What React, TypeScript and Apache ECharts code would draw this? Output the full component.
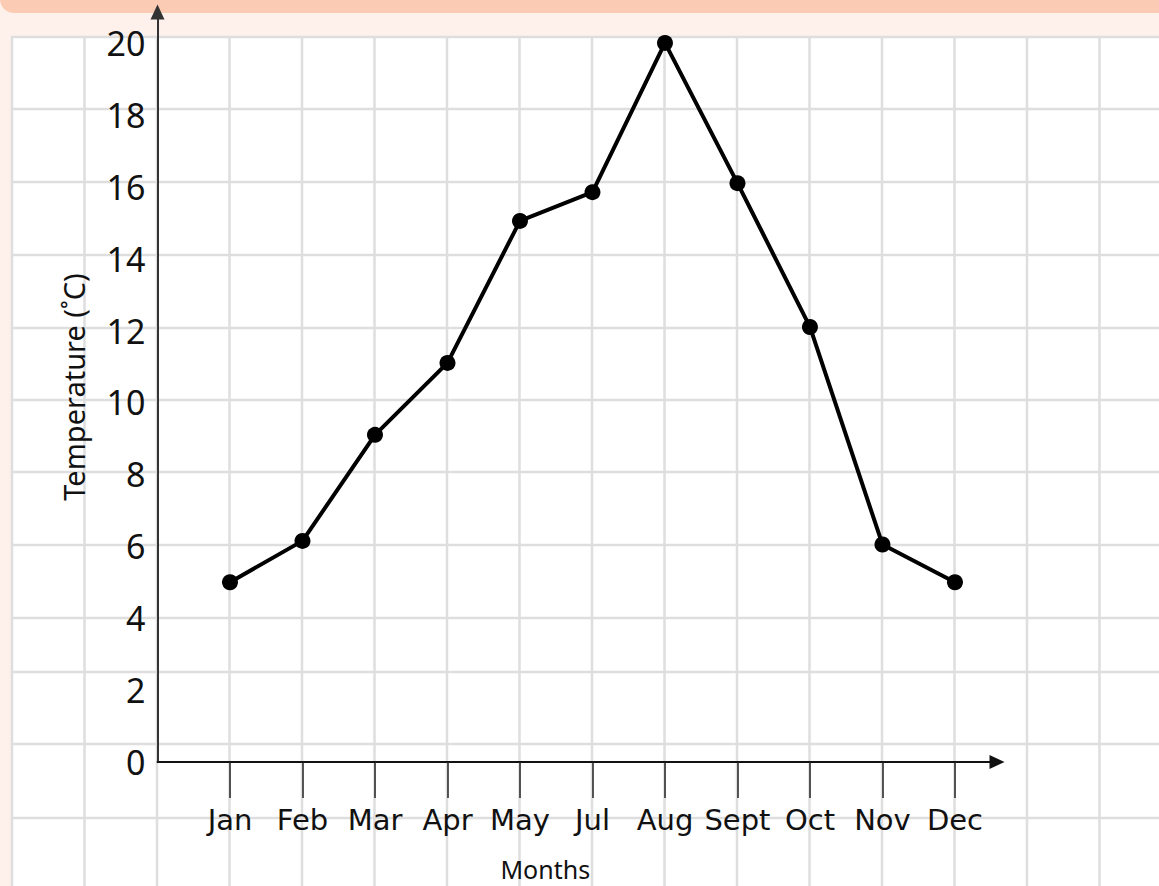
import React, { useEffect, useRef } from "react";
import * as echarts from "echarts";

const months = ["Jan", "Feb", "Mar", "Apr", "May", "Jul", "Aug", "Sept", "Oct", "Nov", "Dec"];
const monthPos = [1, 2, 3, 4, 5, 6, 7, 8, 9, 10, 11];
const temps = [5, 6.15, 9.1, 11.1, 15.05, 15.85, 20, 16.1, 12.1, 6.05, 5];
const yTicks = [0, 2, 4, 6, 8, 10, 12, 14, 16, 18, 20];

const W = 1159;
const H = 886;
const paperLeft = 12;
const paperTop = 36;
const vLines = Array.from({ length: 16 }, (_, k) => paperLeft + 72.5 * k);
const hLines = [37, 109, 182, 255, 328, 400, 472, 545, 618, 672, 744, 818];

export default function App() {
  const ref = useRef<HTMLDivElement>(null);
  useEffect(() => {
    document.body.style.margin = "0";
    const chart = echarts.init(ref.current!, null, { renderer: "svg" });
    const gridEls: any[] = [];
    gridEls.push({
      type: "rect",
      z: -20,
      shape: { x: paperLeft, y: paperTop, width: W - paperLeft, height: H - paperTop },
      style: { fill: "#ffffff" },
    });
    vLines.forEach((x) =>
      gridEls.push({
        type: "line",
        z: -10,
        shape: { x1: x, y1: paperTop, x2: x, y2: H },
        style: { stroke: "#dedede", lineWidth: 2.5 },
      })
    );
    hLines.forEach((y) =>
      gridEls.push({
        type: "line",
        z: -10,
        shape: { x1: paperLeft, y1: y, x2: W, y2: y },
        style: { stroke: "#dedede", lineWidth: 2.5 },
      })
    );
    gridEls.push({
      type: "rect",
      z: -5,
      shape: { x: 0, y: -20, width: W, height: 33, r: [0, 0, 0, 14] },
      style: { fill: "#fbcbb4" },
    });

    chart.setOption({
      animation: false,
      backgroundColor: "#fef1ec",
      graphic: { elements: gridEls },
      grid: { left: 157.5, right: W - 997, top: 12, bottom: H - 763, containLabel: false },
      xAxis: {
        type: "value",
        min: 0,
        max: 11.58,
        interval: 1,
        splitLine: { show: false },
        axisLine: {
          show: true,
          symbol: ["none", "triangle"],
          symbolSize: [14, 15],
          lineStyle: { color: "#111", width: 1.8 },
        },
        axisTick: {
          show: true,
          customValues: monthPos,
          length: 36,
          lineStyle: { color: "#222", width: 1.5 },
        },
        axisLabel: {
          customValues: monthPos,
          formatter: (v: number) => months[Math.round(v) - 1] ?? "",
          margin: 43,
          fontSize: 29,
          fontFamily: "DejaVu Sans",
          color: "#111",
        },
        name: "Months",
        nameLocation: "middle",
        nameGap: 94,
        nameTextStyle: { fontSize: 25, fontFamily: "Noto Sans", color: "#111", padding: [0, 64, 0, 0] },
      },
      yAxis: {
        type: "value",
        min: 0,
        max: 20.86,
        interval: 2,
        splitLine: { show: false },
        axisLine: {
          show: true,
          symbol: ["none", "triangle"],
          symbolSize: [14, 15],
          lineStyle: { color: "#333", width: 2 },
        },
        axisTick: { show: false },
        axisLabel: {
          customValues: yTicks,
          margin: 12,
          fontSize: 34,
          fontFamily: "Noto Sans",
          color: "#111",
        },
        name: "Temperature (˚C)",
        nameLocation: "middle",
        nameGap: 70,
        nameTextStyle: { fontSize: 29, fontFamily: "Noto Sans", color: "#111" },
      },
      series: [
        {
          type: "line",
          data: monthPos.map((x, i) => [x, temps[i]]),
          symbol: "circle",
          symbolSize: 16,
          itemStyle: { color: "#000" },
          lineStyle: { color: "#000", width: 4 },
          z: 5,
        },
      ],
    });
    return () => chart.dispose();
  }, []);
  return <div ref={ref} style={{ position: "absolute", left: 0, top: 0, width: W, height: H }} />;
}
